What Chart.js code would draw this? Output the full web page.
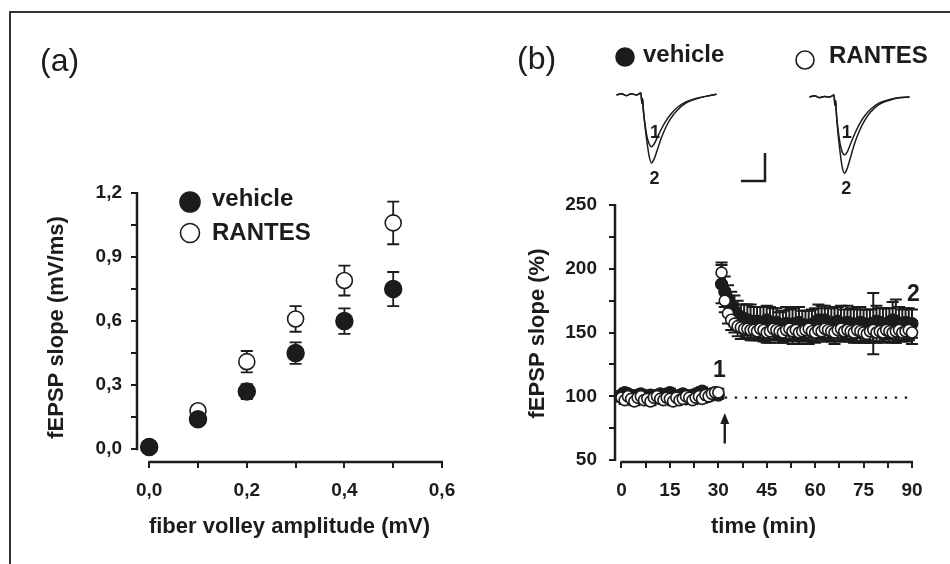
<!DOCTYPE html>
<html>
<head>
<meta charset="utf-8">
<script src="https://cdn.jsdelivr.net/npm/chart.js@4.4.1/dist/chart.umd.min.js"></script>
<style>
  body { margin: 0; background: #fff; }
  #wrap { position: relative; width: 950px; height: 564px; overflow: hidden; }
  #frame { position: absolute; left: 9px; top: 11px; width: 945px; height: 560px;
           border-left: 2px solid #333; border-top: 2px solid #333; }
  canvas { position: absolute; }
</style>
</head>
<body>
<div id="wrap">
  <div id="frame"></div>
  <canvas id="io" width="475" height="564" style="left:0;top:0"></canvas>
  <canvas id="ltp" width="480" height="564" style="left:470px;top:0"></canvas>
  <canvas id="traces" width="330" height="120" style="left:600px;top:80px"></canvas>
</div>
<script>
// ---- panel (a): input/output ----
const fvAmplitude = [0, 0.1, 0.2, 0.3, 0.4, 0.5];
const vehicleSlope = [0.01, 0.14, 0.27, 0.45, 0.60, 0.75];
const vehicleSlopeErr = [0, 0.02, 0.035, 0.05, 0.06, 0.08];
const rantesSlope = [0.01, 0.18, 0.41, 0.61, 0.79, 1.06];
const rantesSlopeErr = [0, 0.025, 0.05, 0.06, 0.07, 0.10];
const ioXTicks = [0, 0.1, 0.2, 0.3, 0.4, 0.5, 0.6];
const ioXLabels = [0, 0.2, 0.4, 0.6];
const ioYTicks = [0, 0.15, 0.3, 0.45, 0.6, 0.75, 0.9, 1.05, 1.2];
const ioYLabels = [0, 0.3, 0.6, 0.9, 1.2];

// ---- panel (b): time course ----
const ltpTime = Array.from({length: 91}, (_, i) => i); // sampled once per minute, 0..90
const vehicleLtp = [
  101,103,102,100,99,101,102,100,98,101,100,99,102,101,100,103,101,99,100,102,98,100,101,99,103,104,101,100,102,103,101,
  188,182,176,171,167,164,162,161,160,159,
  158,159,157,158,160,156,157,158,156,155,
  157,156,155,157,158,156,155,154,156,158,
  160,158,160,157,156,158,159,157,156,158,
  157,155,156,158,157,156,155,157,159,158,
  156,157,158,160,159,157,156,158,157,157
];
const vehicleLtpErr = [
  3,3,3,3,3,3,3,3,3,3,3,3,3,3,3,3,3,3,3,3,3,3,3,3,3,3,3,3,3,3,3,
  15,12,11,11,12,11,10,11,12,13,
  12,11,13,12,11,14,12,11,10,12,
  13,12,14,13,12,11,12,13,12,11,
  12,13,11,12,13,12,11,14,12,13,
  12,13,14,12,11,12,13,24,12,11,
  13,12,11,14,17,13,12,11,12,11
];
const rantesLtp = [
  99,97,100,98,96,99,100,97,98,96,99,100,98,97,99,98,96,99,97,98,100,99,97,99,100,98,101,100,102,103,103,
  197,175,165,160,157,155,154,153,153,152,
  152,151,153,152,150,151,153,152,151,150,
  152,153,151,152,150,151,152,153,151,150,
  152,151,153,152,151,150,152,153,151,152,
  151,150,152,151,150,149,151,152,150,151,
  150,152,151,150,151,152,150,151,152,150
];
const rantesLtpErr = [
  3,3,3,3,3,3,3,3,3,3,3,3,3,3,3,3,3,3,3,3,3,3,3,3,3,3,3,3,3,3,3,
  8,9,8,8,7,8,9,8,7,8,
  8,7,8,9,8,7,8,8,9,8,
  7,8,8,7,9,8,8,7,8,8,
  9,8,7,8,8,9,8,7,8,8,
  8,7,9,8,8,7,8,9,8,8,
  8,7,8,8,9,8,7,8,8,9
];
const ltpXTicks = [0, 7.5, 15, 22.5, 30, 37.5, 45, 52.5, 60, 67.5, 75, 82.5, 90];
const ltpXLabels = [0, 15, 30, 45, 60, 75, 90];
const ltpYTicks = [50, 75, 100, 125, 150, 175, 200, 225, 250];
const ltpYLabels = [50, 100, 150, 200, 250];
const baselineTime = [32, 90];
const baselineLevel = [99, 99];
const tetanusTime = 32;
const tetanusArrow = [63, 87];
const ltpMarks = [{t: 30.3, v: 120, text: '1'}, {t: 90.4, v: 180, text: '2'}];

// ---- sample traces (ms, mV) ----
const traceTime = [0, 1.5, 3, 4.5, 6, 7.4, 7.7, 7.9, 8.1, 8.5, 9.2, 9.9, 10.6, 11.4, 12.4, 13.6, 15, 16.5, 18.5, 21, 24, 27, 30.3];
const vehicleTrace1 = [0, 0.02, -0.01, 0.02, 0, 0.03, -0.12, -0.05, -0.2, -0.38, -0.6, -0.72, -0.76, -0.72, -0.62, -0.5, -0.38, -0.28, -0.18, -0.1, -0.05, -0.02, 0.01];
const vehicleTrace2 = [0, 0.02, -0.01, 0.02, 0, 0.03, -0.12, -0.05, -0.2, -0.4, -0.68, -0.9, -1.0, -0.94, -0.8, -0.63, -0.47, -0.34, -0.22, -0.12, -0.06, -0.02, 0.01];
const rantesTrace1 = [-0.03, -0.01, -0.04, -0.02, -0.03, 0, -0.15, -0.08, -0.25, -0.45, -0.7, -0.84, -0.88, -0.84, -0.72, -0.58, -0.44, -0.32, -0.21, -0.12, -0.07, -0.04, -0.03];
const rantesTrace2 = [-0.03, -0.01, -0.04, -0.02, -0.03, 0, -0.15, -0.08, -0.25, -0.5, -0.82, -1.06, -1.15, -1.08, -0.92, -0.72, -0.54, -0.39, -0.25, -0.14, -0.08, -0.04, -0.03];
const rantesTraceOffset = 58.5;
const scaleBarTime = [37.7, 45, 45];
const scaleBarVolt = [-1.265, -1.265, -0.853];
const traceMarks = [
  {t: 11.7, v: -0.56, text: '1'}, {t: 11.5, v: -1.24, text: '2'},
  {t: 58.5 + 11.3, v: -0.56, text: '1'}, {t: 58.5 + 11.1, v: -1.39, text: '2'}
];

const ink = '#1c1c1c';
const family = '"Liberation Sans", Arial, sans-serif';
Chart.defaults.font.family = family;
Chart.defaults.color = ink;
Chart.defaults.animation = false;

const pts = (xs, ys) => xs.map((x, i) => ({x, y: ys[i]}));

// error bars behind the markers
const errorBars = {
  id: 'errorBars',
  beforeDatasetsDraw(chart) {
    const {ctx, scales: {x, y}} = chart;
    chart.data.datasets.forEach(ds => {
      if (!ds.errors) return;
      ctx.save();
      ctx.strokeStyle = ink;
      ctx.lineWidth = ds.errWidth;
      ds.data.forEach((p, j) => {
        const e = ds.errors[j];
        if (!e) return;
        const px = x.getPixelForValue(p.x);
        const y1 = y.getPixelForValue(p.y - e), y2 = y.getPixelForValue(p.y + e);
        const c = ds.cap;
        ctx.beginPath();
        ctx.moveTo(px, y1); ctx.lineTo(px, y2);
        ctx.moveTo(px - c, y1); ctx.lineTo(px + c, y1);
        ctx.moveTo(px - c, y2); ctx.lineTo(px + c, y2);
        ctx.stroke();
      });
      ctx.restore();
    });
  }
};

// axis lines that run only from first to last tick (offset axes)
const axisLines = {
  id: 'axisLines',
  afterDraw(chart) {
    const {ctx, chartArea: a, scales: {x, y}} = chart;
    ctx.save();
    ctx.strokeStyle = ink;
    ctx.lineWidth = 2.5;
    ctx.beginPath();
    ctx.moveTo(x.getPixelForValue(x.ticks[0].value) - 1, a.bottom);
    ctx.lineTo(x.getPixelForValue(x.ticks[x.ticks.length - 1].value) + 1, a.bottom);
    ctx.moveTo(a.left, y.getPixelForValue(y.ticks[0].value) + 1);
    ctx.lineTo(a.left, y.getPixelForValue(y.ticks[y.ticks.length - 1].value) - 1);
    ctx.stroke();
    ctx.restore();
  }
};

function legendItem(ctx, ds, cx, cy, r, tx, ty) {
  ctx.beginPath();
  ctx.arc(cx, cy, r, 0, Math.PI * 2);
  ctx.fillStyle = ds.pointBackgroundColor;
  ctx.fill();
  ctx.lineWidth = 1.6;
  ctx.strokeStyle = ink;
  ctx.stroke();
  ctx.fillStyle = ink;
  ctx.font = 'bold 24px ' + family;
  ctx.textBaseline = 'alphabetic';
  ctx.textAlign = 'left';
  ctx.fillText(ds.label, tx, ty);
}

function panelLabel(ctx, text, x, y) {
  ctx.fillStyle = ink;
  ctx.font = '32px ' + family;
  ctx.textBaseline = 'middle';
  ctx.textAlign = 'left';
  ctx.fillText(text, x, y);
}

function axes(xTicks, xLabels, xMin, xMax, xDigits, yTicks, yLabels, yMin, yMax, yDigits, xTitle, yTitle, yWidth, yTickPad, yTitlePad) {
  const label = (list, digits) => v => list.some(l => Math.abs(l - v) < 1e-9)
    ? (digits ? v.toFixed(digits).replace('.', ',') : String(v)) : '';
  const grid = {display: true, drawOnChartArea: false, drawTicks: true, tickLength: 6, lineWidth: 2, color: ink};
  return {
    x: {
      type: 'linear', min: xMin, max: xMax,
      afterBuildTicks: s => { s.ticks = xTicks.map(v => ({value: v})); },
      afterFit: s => { s.height = 102; },
      grid, border: {display: false},
      ticks: {autoSkip: false, maxRotation: 0, padding: 11, font: {size: 19, weight: 'bold'}, callback: label(xLabels, xDigits)},
      title: {display: true, text: xTitle, font: {size: 22, weight: 'bold'}, padding: {bottom: 24}}
    },
    y: {
      type: 'linear', min: yMin, max: yMax,
      afterBuildTicks: s => { s.ticks = yTicks.map(v => ({value: v})); },
      afterFit: s => { s.width = yWidth; },
      grid, border: {display: false},
      ticks: {autoSkip: false, padding: yTickPad, font: {size: 19, weight: 'bold'}, callback: label(yLabels, yDigits)},
      title: {display: true, text: yTitle, font: {size: 22, weight: 'bold'}, padding: {top: yTitlePad}}
    }
  };
}

// ---- chart (a) ----
new Chart(document.getElementById('io'), {
  type: 'scatter',
  data: {
    datasets: [
      {label: 'vehicle', data: pts(fvAmplitude, vehicleSlope), errors: vehicleSlopeErr, cap: 6, errWidth: 1.8, order: 0,
       pointRadius: 8.5, pointBackgroundColor: ink, pointBorderColor: ink, pointBorderWidth: 1.5, clip: false},
      {label: 'RANTES', data: pts(fvAmplitude, rantesSlope), errors: rantesSlopeErr, cap: 6, errWidth: 1.8, order: 1,
       pointRadius: 8, pointBackgroundColor: '#fff', pointBorderColor: ink, pointBorderWidth: 1.6, clip: false}
    ]
  },
  options: {
    responsive: false,
    layout: {padding: {top: 193, right: 33, left: 0, bottom: 0}},
    plugins: {legend: {display: false}, tooltip: {enabled: false}},
    scales: axes(ioXTicks, ioXLabels, -0.025, 0.6, 1, ioYTicks, ioYLabels, -0.06, 1.2, 1,
      'fiber volley amplitude (mV)', 'fEPSP slope (mV/ms)', 137, 9, 44)
  },
  plugins: [errorBars, axisLines, {
    id: 'ioDecor',
    afterDraw(chart) {
      const ctx = chart.ctx, ds = chart.data.datasets;
      ctx.save();
      panelLabel(ctx, '(a)', 40, 62);
      legendItem(ctx, ds[0], 190, 202, 10, 212, 206);
      legendItem(ctx, ds[1], 190, 233, 9.5, 212, 240);
      ctx.restore();
    }
  }]
});

// ---- chart (b) ----
new Chart(document.getElementById('ltp'), {
  type: 'scatter',
  data: {
    datasets: [
      {label: 'vehicle', data: pts(ltpTime, vehicleLtp), errors: vehicleLtpErr, cap: 6, errWidth: 2, order: 1,
       pointRadius: 6, pointBackgroundColor: ink, pointBorderColor: ink, pointBorderWidth: 1.2, clip: false},
      {label: 'RANTES', data: pts(ltpTime, rantesLtp), errors: rantesLtpErr, cap: 6, errWidth: 2, order: 0,
       pointRadius: 5.5, pointBackgroundColor: '#fff', pointBorderColor: ink, pointBorderWidth: 1.6, clip: false},
      {label: 'baseline', data: pts(baselineTime, baselineLevel), showLine: true, pointRadius: 0,
       borderColor: ink, borderWidth: 2.4, borderDash: [2.4, 7.6], order: 2}
    ]
  },
  options: {
    responsive: false,
    layout: {padding: {top: 205, right: 38, left: 0, bottom: 0}},
    plugins: {legend: {display: false}, tooltip: {enabled: false}},
    scales: axes(ltpXTicks, ltpXLabels, -2, 90, 0, ltpYTicks, ltpYLabels, 48.5, 250, 0,
      'time (min)', 'fEPSP slope (%)', 145, 12, 55)
  },
  plugins: [errorBars, axisLines, {
    id: 'ltpDecor',
    afterDraw(chart) {
      const {ctx, scales: {x, y}} = chart, ds = chart.data.datasets;
      ctx.save();
      panelLabel(ctx, '(b)', 47, 60);
      legendItem(ctx, ds[0], 155, 57, 9, 173, 62);
      legendItem(ctx, ds[1], 335, 60, 9, 359, 63);
      // tetanus arrow
      const ax = x.getPixelForValue(tetanusTime);
      const a0 = y.getPixelForValue(tetanusArrow[0]), a1 = y.getPixelForValue(tetanusArrow[1]);
      ctx.strokeStyle = ink; ctx.fillStyle = ink; ctx.lineWidth = 2.4;
      ctx.beginPath(); ctx.moveTo(ax, a0); ctx.lineTo(ax, a1 + 8); ctx.stroke();
      ctx.beginPath(); ctx.moveTo(ax, a1); ctx.lineTo(ax - 4.5, a1 + 11); ctx.lineTo(ax + 4.5, a1 + 11); ctx.closePath(); ctx.fill();
      ctx.font = 'bold 23px ' + family;
      ctx.textAlign = 'center'; ctx.textBaseline = 'middle';
      ltpMarks.forEach(m => ctx.fillText(m.text, x.getPixelForValue(m.t), y.getPixelForValue(m.v)));
      ctx.restore();
    }
  }]
});

// ---- sample traces ----
const traceLine = data => ({data, showLine: true, pointRadius: 0, borderColor: ink, borderWidth: 1.5,
  cubicInterpolationMode: 'monotone', clip: false});
new Chart(document.getElementById('traces'), {
  type: 'scatter',
  data: {
    datasets: [
      traceLine(pts(traceTime, vehicleTrace1)),
      traceLine(pts(traceTime, vehicleTrace2)),
      traceLine(pts(traceTime.map(t => t + rantesTraceOffset), rantesTrace1)),
      traceLine(pts(traceTime.map(t => t + rantesTraceOffset), rantesTrace2)),
      {data: pts(scaleBarTime, scaleBarVolt), showLine: true, pointRadius: 0, borderColor: ink, borderWidth: 2.5, tension: 0}
    ]
  },
  options: {
    responsive: false,
    layout: {padding: 0},
    plugins: {legend: {display: false}, tooltip: {enabled: false}},
    scales: {
      x: {type: 'linear', display: false, min: -5, max: 95},
      y: {type: 'linear', display: false, min: -1.544, max: 0.221}
    }
  },
  plugins: [{
    id: 'traceMarks',
    afterDraw(chart) {
      const {ctx, scales: {x, y}} = chart;
      ctx.save();
      ctx.fillStyle = ink;
      ctx.font = 'bold 18px ' + family;
      ctx.textAlign = 'center'; ctx.textBaseline = 'middle';
      traceMarks.forEach(m => ctx.fillText(m.text, x.getPixelForValue(m.t), y.getPixelForValue(m.v)));
      ctx.restore();
    }
  }]
});
</script>
</body>
</html>
